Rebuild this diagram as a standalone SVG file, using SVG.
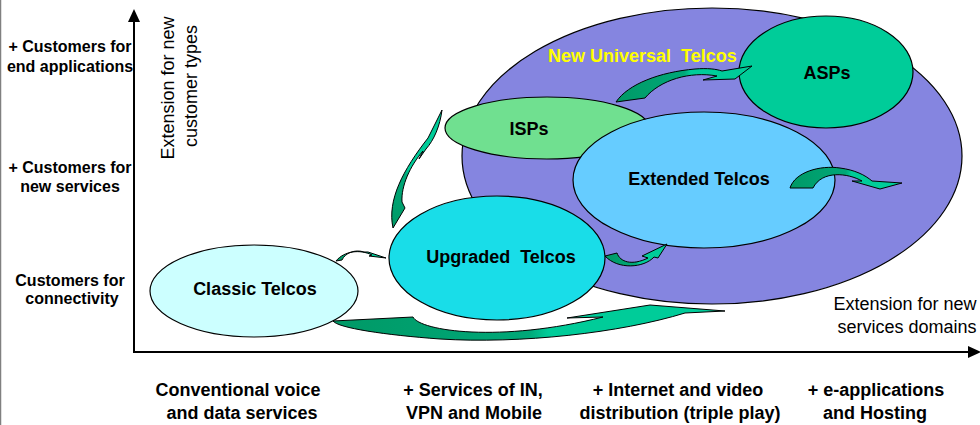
<svg xmlns="http://www.w3.org/2000/svg" width="980" height="425" viewBox="0 0 980 425">
<defs>
<style>
.node{stroke:#000;stroke-width:1.2}
.lbl{font-family:"Liberation Sans",Arial,sans-serif;font-weight:bold;fill:#000}
.ax{font-family:"Liberation Sans",Arial,sans-serif;font-size:18px;fill:#000}
.arr{stroke:#000;stroke-width:1}
</style>
<linearGradient id="gh" x1="0" y1="0" x2="1" y2="0">
<stop offset="0" stop-color="#009966"/><stop offset="0.5" stop-color="#00A878"/><stop offset="0.55" stop-color="#00CC99"/><stop offset="1" stop-color="#00CC99"/>
</linearGradient>
<linearGradient id="gv" x1="0" y1="1" x2="0" y2="0">
<stop offset="0" stop-color="#009966"/><stop offset="0.45" stop-color="#00A878"/><stop offset="0.5" stop-color="#00CC99"/><stop offset="1" stop-color="#00CC99"/>
</linearGradient>
</defs>
<rect width="980" height="425" fill="#fff"/>
<line x1="0.5" y1="0" x2="0.5" y2="425" stroke="#808080" stroke-width="1.5"/>

<g id="axes">
<line x1="134" y1="352" x2="134" y2="20" stroke="#000" stroke-width="2"/>
<polygon points="134,9 128,22 140,22" fill="#000"/>
<line x1="133" y1="352" x2="970" y2="352" stroke="#000" stroke-width="2"/>
<polygon points="981,352 968,346 968,358" fill="#000"/>
</g>

<g id="y-labels">
<text class="lbl" font-size="16" text-anchor="middle"><tspan x="70" y="52">+ Customers for</tspan><tspan x="70" y="72">end applications</tspan></text>
<text class="lbl" font-size="16" text-anchor="middle"><tspan x="70" y="173">+ Customers for</tspan><tspan x="70" y="192">new services</tspan></text>
<text class="lbl" font-size="16" text-anchor="middle"><tspan x="70" y="286">Customers for</tspan><tspan x="72" y="304">connectivity</tspan></text>
<text class="ax" text-anchor="middle" transform="translate(174,88) rotate(-90)">Extension for new</text>
<text class="ax" text-anchor="middle" transform="translate(197,86) rotate(-90)">customer types</text>
</g>

<g id="x-labels">
<text class="lbl" font-size="18" text-anchor="middle"><tspan x="238" y="396">Conventional voice</tspan><tspan x="242" y="419">and data services</tspan></text>
<text class="lbl" font-size="18" text-anchor="middle"><tspan x="473" y="396">+ Services of IN,</tspan><tspan x="474" y="419">VPN and Mobile</tspan></text>
<text class="lbl" font-size="18" text-anchor="middle"><tspan x="678" y="396">+ Internet and video</tspan><tspan x="680" y="419">distribution (triple play)</tspan></text>
<text class="lbl" font-size="18" text-anchor="middle"><tspan x="876" y="396">+ e-applications</tspan><tspan x="875" y="419">and Hosting</tspan></text>
<text class="ax" text-anchor="middle"><tspan x="905" y="310">Extension for new</tspan><tspan x="907" y="333">services domains</tspan></text>
</g>

<g id="new-universal-telcos">
<ellipse class="node" cx="712" cy="156" rx="250" ry="148" fill="#8585E0"/>
<text class="lbl" font-size="18" style="fill:#FFFF00" x="548" y="62">New Universal&#160; Telcos</text>
</g>

<g id="asps">
<ellipse class="node" cx="826" cy="72" rx="87" ry="56" fill="#00CC99"/>
<text class="lbl" font-size="18" text-anchor="middle" x="827" y="79">ASPs</text>
</g>

<g id="isps">
<ellipse class="node" cx="547" cy="128" rx="102" ry="31" fill="#70E090"/>
<text class="lbl" font-size="18" text-anchor="middle" x="529" y="135">ISPs</text>
</g>

<g id="extended-telcos">
<ellipse class="node" cx="704" cy="180" rx="131" ry="68" fill="#66CCFF"/>
<text class="lbl" font-size="18" text-anchor="middle" x="699" y="185">Extended Telcos</text>
</g>

<g id="upgraded-telcos">
<ellipse class="node" cx="497" cy="258" rx="108" ry="62" fill="#19DDE8"/>
<text class="lbl" font-size="18" text-anchor="middle" x="501" y="263">Upgraded&#160; Telcos</text>
</g>

<g id="classic-telcos">
<ellipse class="node" cx="254" cy="291" rx="104" ry="46" fill="#CCFFFF"/>
<text class="lbl" font-size="18" text-anchor="middle" x="255" y="295">Classic Telcos</text>
</g>

<g id="connectors">
<path class="arr" fill="url(#gh)" d="M333,321 L413,317 C420,331 500,343 603,317 L567,318 L650,305 L725,311 L685,313 C620,333 520,344 440,339 C385,335 338,328 333,321 Z"/>
<path class="arr" fill="url(#gh)" d="M336,261 C344,251 360,249 372,255 L369,256 L386,258 L368,252 L364,252 C355,249 345,253 342,260 Z"/>
<path class="arr" fill="url(#gv)" d="M393,228 C387,200 403,170 428,138 L442,110 C440,126 434,140 426,149 L419,159 L423,151 C410,166 401,186 402,202 L405,208 Z"/>
<path class="arr" fill="url(#gh)" d="M605,256 L617,253 C620,262 632,266 648,258 L642,256 L667,244 L658,258 L654,257 C644,268 618,270 605,256 Z"/>
<path class="arr" fill="url(#gh)" d="M616,102 C628,84 660,72 695,69 C708,68 716,69 722,71 L752,66 L735,79 L703,80 L717,76 C690,71 660,80 645,98 Z"/>
<path class="arr" fill="url(#gh)" d="M790,188 C795,172 820,165 840,168 C855,170 865,175 872,181 L902,183 L880,189 L852,181 L862,181 C848,173 822,170 813,188 Z"/>
</g>
</svg>
